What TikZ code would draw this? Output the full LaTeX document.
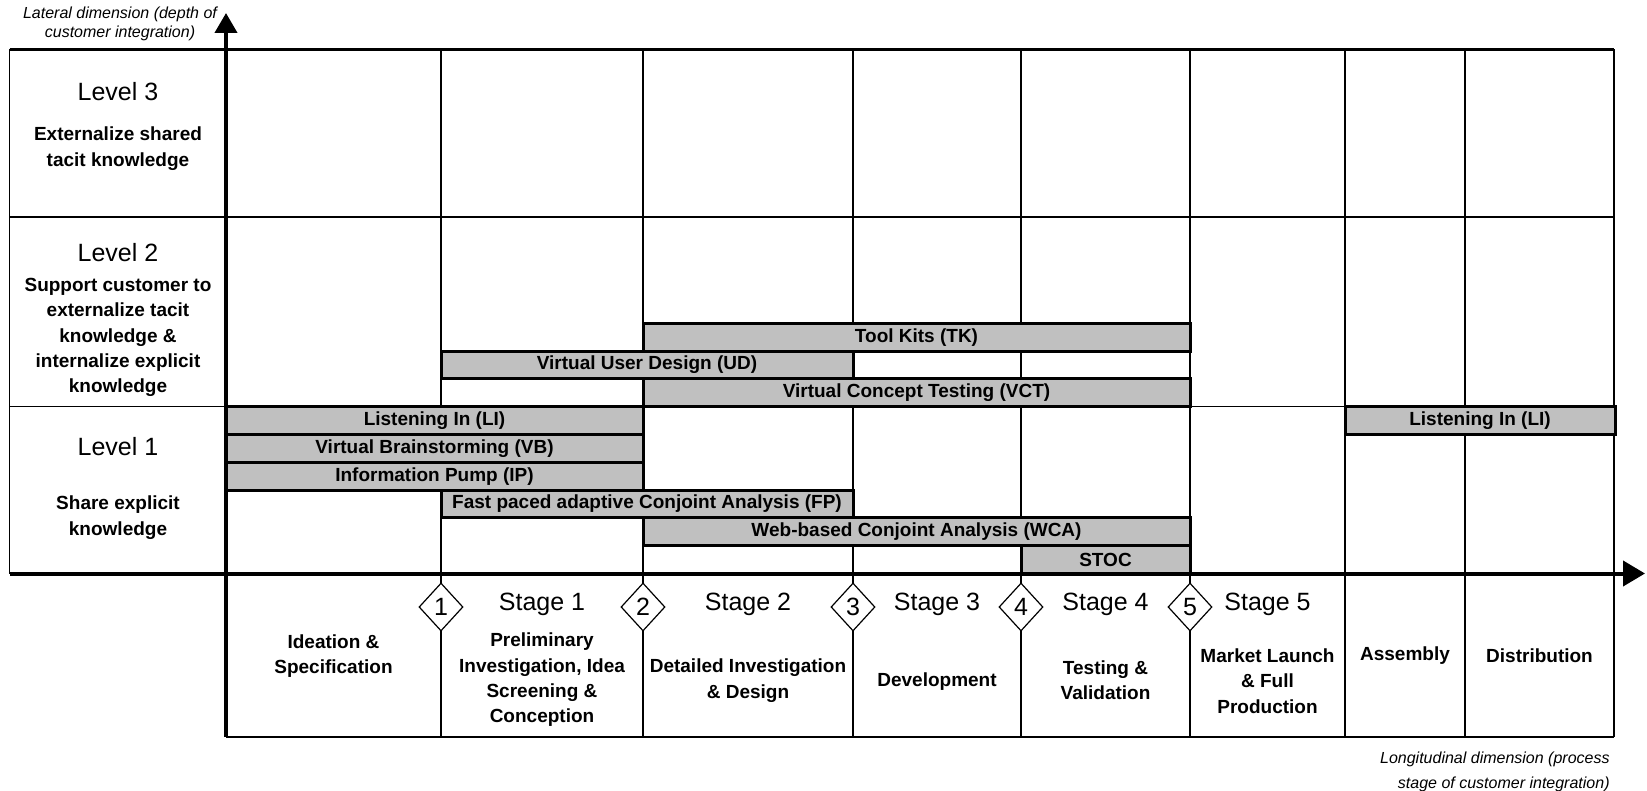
\documentclass[tikz,border=0pt]{standalone}
\usepackage{fontspec}
\setmainfont{Liberation Sans}
\usetikzlibrary{arrows.meta,shapes.geometric}
\definecolor{bargray}{RGB}{192,192,192}
\tikzset{gridline/.style={line width=0.6pt},
  boldgrid/.style={line width=1.2pt},
  axis/.style={line width=2pt},
  actbar/.style={draw,line width=1.5pt,fill=bargray},
  barlabel/.style={font=\fontsize{9.5}{11}\selectfont\bfseries,inner sep=0pt},
  levelhead/.style={font=\fontsize{12.5}{14}\selectfont,inner sep=0pt},
  leveltext/.style={font=\fontsize{9.5}{12.65}\selectfont\bfseries,align=center,inner sep=0pt},
  gate/.style={diamond,draw,fill=white,line width=0.6pt,inner sep=0pt,
    minimum width=22pt,minimum height=24pt,font=\fontsize{12.5}{14}\selectfont},
  dimlabel/.style={font=\fontsize{8}{9.5}\selectfont\itshape,inner sep=0pt}}

\begin{document}
\begin{tikzpicture}[x=0.5pt,y=-0.5pt]
  \useasboundingbox (0,0) rectangle (1647,791);
  \draw[boldgrid] (9.5,49.5)--(1614,49.5);
  \draw[gridline] (9.5,49.5)--(9.5,573.5);
  \draw[gridline] (9.5,217)--(1614,217);
  \draw[gridline] (9.5,406.7)--(1614,406.7);
  \draw[gridline] (1614,49.5)--(1614,737);
  \draw[line width=1pt] (226,737)--(1614,737);
  \draw[gridline] (441,49.5)--(441,737);
  \draw[gridline] (643,49.5)--(643,737);
  \draw[gridline] (853,49.5)--(853,737);
  \draw[boldgrid] (1021,49.5)--(1021,737);
  \draw[boldgrid] (1190,49.5)--(1190,737);
  \draw[line width=0.9pt] (1345,49.5)--(1345,737);
  \draw[line width=1pt] (1465,49.5)--(1465,737);

  \draw[actbar] (643,323.3) rectangle (1190,351.1);
  \draw[actbar] (441,351.1) rectangle (853,378.9);
  \draw[actbar] (643,378.9) rectangle (1190,406.7);
  \draw[actbar] (226,406.7) rectangle (643,434.5);
  \draw[actbar] (1345,406.7) rectangle (1615,434.5);
  \draw[actbar] (226,434.5) rectangle (643,462.3);
  \draw[actbar] (226,462.3) rectangle (643,490.1);
  \draw[actbar] (441,490.1) rectangle (853,517.9);
  \draw[actbar] (643,517.9) rectangle (1190,545.7);
  \draw[actbar] (1021,545.7) rectangle (1190,573.5);

  \node[barlabel] (tk) at (916.5,337.2) {Tool Kits (TK)};
  \node[barlabel] (ud) at (647,365) {Virtual User Design (UD)};
  \node[barlabel] (vct) at (916.5,392.8) {Virtual Concept Testing (VCT)};
  \node[barlabel] (li) at (434.5,420.6) {Listening In (LI)};
  \node[barlabel] (lilate) at (1480,420.6) {Listening In (LI)};
  \node[barlabel] (vb) at (434.5,448.4) {Virtual Brainstorming (VB)};
  \node[barlabel] (ip) at (434.5,476.2) {Information Pump (IP)};
  \node[barlabel] (fp) at (647,504) {Fast paced adaptive Conjoint Analysis (FP)};
  \node[barlabel] (wca) at (916.5,531.8) {Web-based Conjoint Analysis (WCA)};
  \node[barlabel] (stoc) at (1105.5,559.6) {STOC};

  \coordinate (lattip) at (226,13);
  \coordinate (longtip) at (1645,573.5);
  \draw[axis,-{Triangle[length=10pt,width=11pt]}] (226,737)--(lattip);
  \draw[axis,-{Triangle[length=11pt,width=12.5pt]}] (9.5,573.5)--(longtip);

  \node[gate] (g1) at (441,607) {1};
  \node[gate] (g2) at (643,607) {2};
  \node[gate] (g3) at (853,607) {3};
  \node[gate] (g4) at (1021,607) {4};
  \node[gate] (g5) at (1190,607) {5};

  \node[levelhead] (lvl3) at (118,92) {Level 3};
  \node[leveltext] (lvl3txt) at (118,148.5) {Externalize shared\\tacit knowledge};
  \node[levelhead] (lvl2) at (118,253) {Level 2};
  \node[leveltext] (lvl2txt) at (118,337.5) {Support customer to\\externalize tacit\\knowledge \&\\internalize explicit\\knowledge};
  \node[levelhead] (lvl1) at (118,447) {Level 1};
  \node[leveltext] (lvl1txt) at (118,517.5) {Share explicit\\knowledge};

  \node[levelhead] (st1) at (542,604) {Stage 1};
  \node[levelhead] (st2) at (748,604) {Stage 2};
  \node[levelhead] (st3) at (937,604) {Stage 3};
  \node[levelhead] (st4) at (1105.5,604) {Stage 4};
  \node[levelhead] (st5) at (1267.5,604) {Stage 5};

  \node[leveltext] (ideation) at (333.5,656) {Ideation \&\\Specification};
  \node[leveltext] (prelim) at (542,680) {Preliminary\\Investigation, Idea\\Screening \&\\Conception};
  \node[leveltext] (detail) at (748,680.5) {Detailed Investigation\\\& Design};
  \node[leveltext] (devel) at (937,681.7) {Development};
  \node[leveltext] (testing) at (1105.5,680.5) {Testing \&\\Validation};
  \node[leveltext] (launch) at (1267.5,681) {Market Launch\\\& Full\\Production};
  \node[leveltext] (assembly) at (1405,656) {Assembly};
  \node[leveltext] (distrib) at (1539.5,656) {Distribution};

  \node[dimlabel,align=center] (latlabel) at (120,24) {Lateral dimension (depth of\\customer integration)};
  \node[dimlabel,align=right,anchor=east,font=\fontsize{8}{12.5}\selectfont\itshape] (longlabel) at (1610,771.5) {Longitudinal dimension (process\\stage of customer integration)};
\end{tikzpicture}
\end{document}
